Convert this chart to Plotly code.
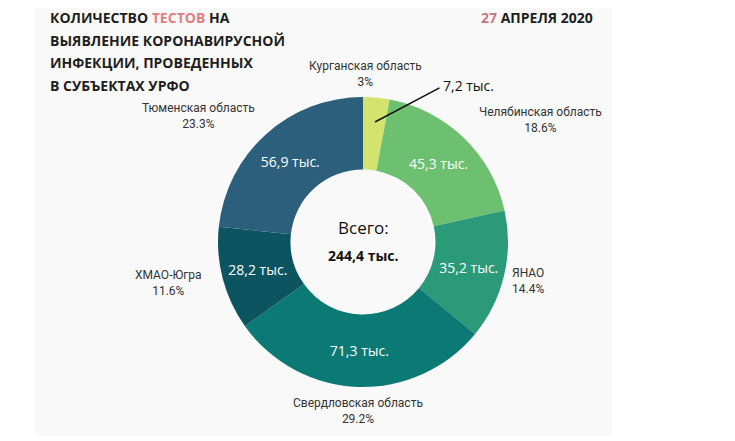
import plotly.graph_objects as go

# данные
regions = ["Курганская область", "Челябинская область", "ЯНАО",
           "Свердловская область", "ХМАО-Югра", "Тюменская область"]
tests = [7.2, 45.3, 35.2, 71.3, 28.2, 56.9]
shares = ["3%", "18.6%", "14.4%", "29.2%", "11.6%", "23.3%"]
inner_text = ["", "45,3 тыс.", "35,2 тыс.", "71,3 тыс.", "28,2 тыс.", "56,9 тыс."]
callout_text = "7,2 тыс."
colors = ["#d2e36e", "#6cc070", "#2a9a78", "#0b7a75", "#0c5560", "#2b5f7c"]
total = "244,4 тыс."
W, H = 735, 441
OFF = 8  # отступ body в html

cx, cy, R = 363 - OFF, 242 - OFF, 145

fig = go.Figure()

fig.add_trace(
    go.Pie(
        labels=regions,
        values=tests,
        text=inner_text,
        textinfo="text",
        textposition="inside",
        insidetextorientation="horizontal",
        textfont=dict(family="Open Sans", size=14, color="white"),
        hole=0.5,
        sort=False,
        direction="clockwise",
        rotation=0,
        marker=dict(colors=colors, line=dict(width=0)),
        domain=dict(x=[(cx - R) / W, (cx + R) / W],
                    y=[(H - cy - R) / H, (H - cy + R) / H]),
        showlegend=False,
        hoverinfo="label+value+percent",
    )
)


def px(x, y):
    return (x - OFF) / W, 1 - (y - OFF) / H


# фон карточки
x0, y0 = px(35, 436)
x1, _ = px(612, 0)
fig.add_shape(type="rect", xref="paper", yref="paper",
              x0=x0, x1=x1, y0=y0, y1=1,
              fillcolor="#f9f9f9", line=dict(width=0), layer="below")

annots = []

# заголовок
title_lines = [
    "КОЛИЧЕСТВО <span style='color:#e07f82'>ТЕСТОВ</span> НА",
    "ВЫЯВЛЕНИЕ КОРОНАВИРУСНОЙ",
    "ИНФЕКЦИИ, ПРОВЕДЕННЫХ",
    "В СУБЪЕКТАХ УРФО",
]
for i, line in enumerate(title_lines):
    x, y = px(48, 17 + i * 23)
    annots.append(dict(x=x, y=y, text="<b>" + line + "</b>", xanchor="left", yanchor="middle",
                       font=dict(family="Open Sans", size=14, color="#1e1e1e")))

x, y = px(595, 17)
annots.append(dict(x=x, y=y, xanchor="right", yanchor="middle",
                   text="<b><span style='color:#c4787e'>27</span> АПРЕЛЯ 2020</b>",
                   font=dict(family="Open Sans", size=14, color="#1e1e1e")))

# подписи регионов
label_pos = [(365, 74), (540, 120), (528, 281), (358, 411), (168, 283), (198, 116)]
for name, share, (lx, ly) in zip(regions, shares, label_pos):
    x, y = px(lx, ly)
    annots.append(dict(x=x, y=y, text=name + "<br>" + share, xanchor="center", yanchor="middle",
                       font=dict(family="Roboto", size=12, color="#333333")))

# выноска для Курганской области
x, y = px(375, 122)
annots.append(dict(x=x, y=y, ax=66, ay=-35, text="",
                   showarrow=True, arrowhead=0, arrowwidth=1.5, arrowcolor="#111111"))
x, y = px(441, 86)
annots.append(dict(x=x, y=y, text=callout_text, xanchor="left", yanchor="middle",
                   font=dict(family="Open Sans", size=14, color="#111111")))

# центр
x, y = px(363, 227)
annots.append(dict(x=x, y=y, text="Всего:", xanchor="center", yanchor="middle",
                   font=dict(family="Open Sans", size=17, color="#111111")))
x, y = px(363, 255)
annots.append(dict(x=x, y=y, text="<b>" + total + "</b>", xanchor="center", yanchor="middle",
                   font=dict(family="Open Sans", size=14, color="#111111")))

for a in annots:
    a.setdefault("xref", "paper")
    a.setdefault("yref", "paper")
    a.setdefault("showarrow", False)

fig.update_layout(
    width=W, height=H,
    margin=dict(l=0, r=0, t=0, b=0),
    paper_bgcolor="white",
    plot_bgcolor="white",
    annotations=annots,
)

fig.write_html("out.html")
